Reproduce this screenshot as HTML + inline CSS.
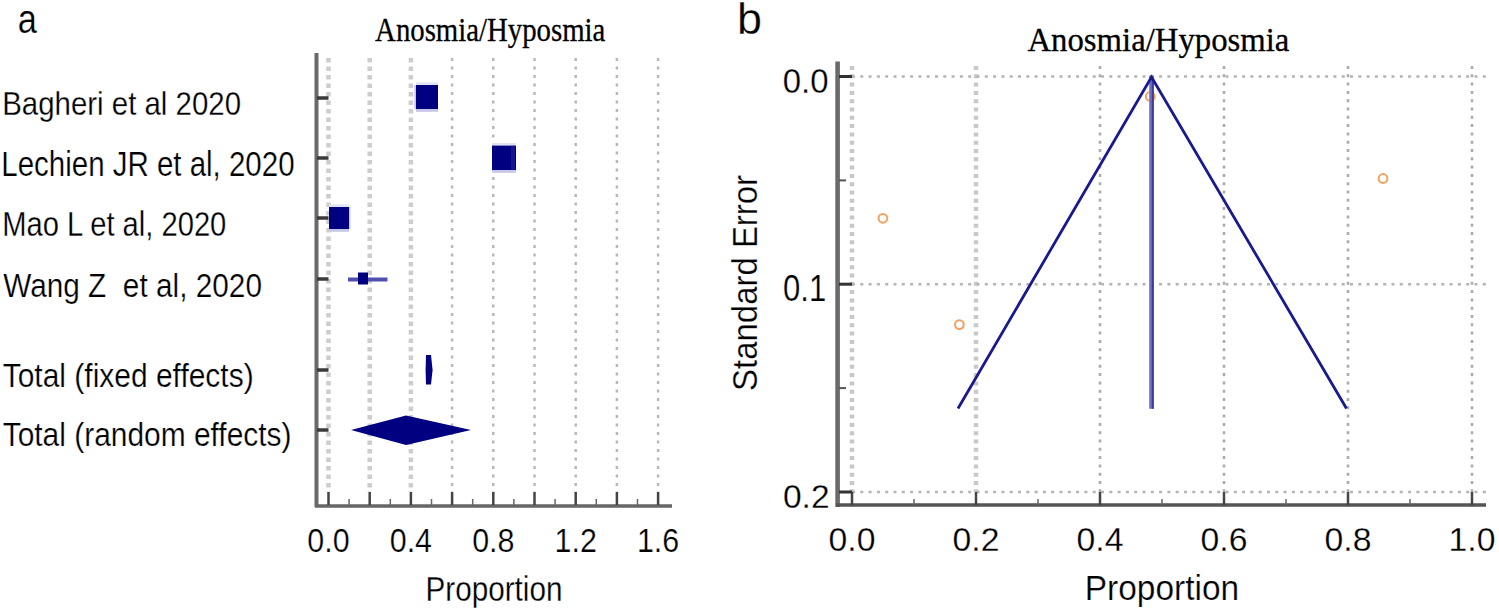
<!DOCTYPE html>
<html><head><meta charset="utf-8"><style>
html,body{margin:0;padding:0;background:#fff;}
body{width:1499px;height:613px;overflow:hidden;}
svg{display:block;}
text{stroke:#fff;stroke-width:0.25px;}
text.serif{stroke:#000;stroke-width:0.3px;}
</style></head><body>
<svg width="1499" height="613" viewBox="0 0 1499 613">
<rect width="1499" height="613" fill="#fff"/>
<line x1="328.5" y1="58" x2="328.5" y2="492" stroke="#cdcdcd" stroke-width="4.5" stroke-dasharray="4.5 4"/>
<line x1="369.7" y1="58" x2="369.7" y2="492" stroke="#cdcdcd" stroke-width="4.5" stroke-dasharray="4.5 4"/>
<line x1="410.9" y1="58" x2="410.9" y2="492" stroke="#cdcdcd" stroke-width="4.5" stroke-dasharray="4.5 4"/>
<line x1="452.1" y1="58" x2="452.1" y2="492" stroke="#b8b8b8" stroke-width="2.5" stroke-dasharray="3 5.5"/>
<line x1="493.3" y1="58" x2="493.3" y2="492" stroke="#b8b8b8" stroke-width="2.5" stroke-dasharray="3 5.5"/>
<line x1="534.5" y1="58" x2="534.5" y2="492" stroke="#b8b8b8" stroke-width="2.5" stroke-dasharray="3 5.5"/>
<line x1="575.7" y1="58" x2="575.7" y2="492" stroke="#b8b8b8" stroke-width="2.5" stroke-dasharray="3 5.5"/>
<line x1="616.9" y1="58" x2="616.9" y2="492" stroke="#b8b8b8" stroke-width="2.5" stroke-dasharray="3 5.5"/>
<line x1="658.1" y1="58" x2="658.1" y2="492" stroke="#b8b8b8" stroke-width="2.5" stroke-dasharray="3 5.5"/>
<line x1="316.5" y1="53" x2="316.5" y2="507" stroke="#6a6a6a" stroke-width="4"/>
<line x1="315" y1="506" x2="672" y2="506" stroke="#666" stroke-width="3.5"/>
<line x1="328.5" y1="492" x2="328.5" y2="505" stroke="#444" stroke-width="2.5"/>
<line x1="369.7" y1="492" x2="369.7" y2="505" stroke="#444" stroke-width="2.5"/>
<line x1="410.9" y1="492" x2="410.9" y2="505" stroke="#444" stroke-width="2.5"/>
<line x1="452.1" y1="492" x2="452.1" y2="505" stroke="#444" stroke-width="2.5"/>
<line x1="493.3" y1="492" x2="493.3" y2="505" stroke="#444" stroke-width="2.5"/>
<line x1="534.5" y1="492" x2="534.5" y2="505" stroke="#444" stroke-width="2.5"/>
<line x1="575.7" y1="492" x2="575.7" y2="505" stroke="#444" stroke-width="2.5"/>
<line x1="616.9" y1="492" x2="616.9" y2="505" stroke="#444" stroke-width="2.5"/>
<line x1="658.1" y1="492" x2="658.1" y2="505" stroke="#444" stroke-width="2.5"/>
<line x1="349.1" y1="499" x2="349.1" y2="505" stroke="#666" stroke-width="1.5"/>
<line x1="390.3" y1="499" x2="390.3" y2="505" stroke="#666" stroke-width="1.5"/>
<line x1="431.5" y1="499" x2="431.5" y2="505" stroke="#666" stroke-width="1.5"/>
<line x1="472.7" y1="499" x2="472.7" y2="505" stroke="#666" stroke-width="1.5"/>
<line x1="513.9" y1="499" x2="513.9" y2="505" stroke="#666" stroke-width="1.5"/>
<line x1="555.1" y1="499" x2="555.1" y2="505" stroke="#666" stroke-width="1.5"/>
<line x1="596.3" y1="499" x2="596.3" y2="505" stroke="#666" stroke-width="1.5"/>
<line x1="637.5" y1="499" x2="637.5" y2="505" stroke="#666" stroke-width="1.5"/>
<line x1="317" y1="98" x2="328.5" y2="98" stroke="#3a3a3a" stroke-width="3.5"/>
<line x1="317" y1="158" x2="328.5" y2="158" stroke="#3a3a3a" stroke-width="3.5"/>
<line x1="317" y1="218" x2="328.5" y2="218" stroke="#3a3a3a" stroke-width="3.5"/>
<line x1="317" y1="279" x2="328.5" y2="279" stroke="#3a3a3a" stroke-width="3.5"/>
<line x1="317" y1="370" x2="328.5" y2="370" stroke="#3a3a3a" stroke-width="3.5"/>
<line x1="317" y1="430" x2="328.5" y2="430" stroke="#3a3a3a" stroke-width="3.5"/>
<rect x="416" y="82.4" width="22" height="2.6" fill="#e2e2f2"/>
<rect x="416" y="109" width="22" height="2.8" fill="#c6c6e6"/>
<rect x="414.3" y="85" width="1.7" height="24" fill="#c8c8ea"/>
<rect x="416" y="85" width="22" height="24" fill="#000080"/>
<rect x="492" y="143.0" width="24" height="2.6" fill="#e2e2f2"/>
<rect x="492" y="170.0" width="24" height="2.8" fill="#c6c6e6"/>
<rect x="492" y="145.6" width="24" height="24.4" fill="#000080"/>
<rect x="511" y="145.6" width="4" height="24.4" fill="#2a2aa0" opacity="0.5"/>
<rect x="329" y="204.4" width="20" height="2.6" fill="#e2e2f2"/>
<rect x="329" y="229" width="20" height="2.8" fill="#c6c6e6"/>
<rect x="349" y="207" width="1.5" height="22" fill="#c8c8ea"/>
<rect x="329" y="207" width="20" height="22" fill="#000080"/>
<rect x="348" y="277.5" width="39.5" height="4" fill="#4f4fb0"/>
<rect x="358" y="272.5" width="10" height="12" fill="#000080"/>
<polygon points="426,355 431,355 432.6,370 431,384.5 426,384.5 425.6,370" fill="#000080"/>
<polygon points="351,430 406,415.5 471,430 406,445" fill="#000080"/>
<line x1="852.0" y1="66" x2="852.0" y2="492" stroke="#c8c8c8" stroke-width="4.5" stroke-dasharray="4 4.3"/>
<line x1="976.0" y1="66" x2="976.0" y2="492" stroke="#c8c8c8" stroke-width="4.5" stroke-dasharray="4 4.3"/>
<line x1="1100.0" y1="66" x2="1100.0" y2="492" stroke="#acacac" stroke-width="2.6" stroke-dasharray="3 5.3"/>
<line x1="1224.0" y1="66" x2="1224.0" y2="492" stroke="#acacac" stroke-width="2.6" stroke-dasharray="3 5.3"/>
<line x1="1348.0" y1="66" x2="1348.0" y2="492" stroke="#acacac" stroke-width="2.6" stroke-dasharray="3 5.3"/>
<line x1="1472.0" y1="66" x2="1472.0" y2="492" stroke="#acacac" stroke-width="2.6" stroke-dasharray="3 5.3"/>
<line x1="852" y1="76.5" x2="1486" y2="76.5" stroke="#b4b4b4" stroke-width="2.6" stroke-dasharray="3 5.3"/>
<line x1="852" y1="284.2" x2="1486" y2="284.2" stroke="#b4b4b4" stroke-width="2.6" stroke-dasharray="3 5.3"/>
<line x1="852" y1="492.0" x2="1486" y2="492.0" stroke="#b4b4b4" stroke-width="2.6" stroke-dasharray="3 5.3"/>
<line x1="837.6" y1="61.5" x2="837.6" y2="507" stroke="#6a6a6a" stroke-width="4.6"/>
<line x1="836" y1="505" x2="1486" y2="505" stroke="#555" stroke-width="3.5"/>
<line x1="852.0" y1="492" x2="852.0" y2="505" stroke="#444" stroke-width="2.5"/>
<line x1="976.0" y1="492" x2="976.0" y2="505" stroke="#444" stroke-width="2.5"/>
<line x1="1100.0" y1="492" x2="1100.0" y2="505" stroke="#444" stroke-width="2.5"/>
<line x1="1224.0" y1="492" x2="1224.0" y2="505" stroke="#444" stroke-width="2.5"/>
<line x1="1348.0" y1="492" x2="1348.0" y2="505" stroke="#444" stroke-width="2.5"/>
<line x1="1472.0" y1="492" x2="1472.0" y2="505" stroke="#444" stroke-width="2.5"/>
<line x1="914.0" y1="499" x2="914.0" y2="505" stroke="#666" stroke-width="1.5"/>
<line x1="1038.0" y1="499" x2="1038.0" y2="505" stroke="#666" stroke-width="1.5"/>
<line x1="1162.0" y1="499" x2="1162.0" y2="505" stroke="#666" stroke-width="1.5"/>
<line x1="1286.0" y1="499" x2="1286.0" y2="505" stroke="#666" stroke-width="1.5"/>
<line x1="1410.0" y1="499" x2="1410.0" y2="505" stroke="#666" stroke-width="1.5"/>
<line x1="839" y1="76.5" x2="852" y2="76.5" stroke="#333" stroke-width="3"/>
<line x1="839" y1="284.2" x2="852" y2="284.2" stroke="#333" stroke-width="3"/>
<line x1="839" y1="492.0" x2="852" y2="492.0" stroke="#333" stroke-width="3"/>
<line x1="839" y1="180.4" x2="846" y2="180.4" stroke="#555" stroke-width="2"/>
<line x1="839" y1="388.1" x2="846" y2="388.1" stroke="#555" stroke-width="2"/>
<circle cx="1150.3" cy="96.5" r="4.4" fill="none" stroke="#f3a062" stroke-width="2"/>
<circle cx="1383" cy="178.5" r="4.4" fill="none" stroke="#f3a062" stroke-width="2"/>
<circle cx="882.9" cy="218.3" r="4.4" fill="none" stroke="#f3a062" stroke-width="2"/>
<circle cx="959.4" cy="324.6" r="4.4" fill="none" stroke="#f3a062" stroke-width="2"/>
<line x1="1151.5" y1="75.5" x2="1151.5" y2="408.7" stroke="#7070c4" stroke-width="4.6"/>
<line x1="1152.8" y1="80" x2="1152.8" y2="408.7" stroke="#3c3c9c" stroke-width="2"/>
<polyline points="958,408.5 1151.5,77.0 1346.5,408.5" fill="none" stroke="#1a1a90" stroke-width="2.8" stroke-linejoin="miter"/>
<text transform="translate(17.73,33.30) scale(0.8592,1)" font-size="40.00" font-family='"Liberation Sans", sans-serif' fill="#000"  xml:space="preserve">a</text>
<text transform="translate(736.88,33.60) scale(1.0299,1)" font-size="43.59" font-family='"Liberation Sans", sans-serif' fill="#000"  xml:space="preserve">b</text>
<text class="serif" transform="translate(375.11,41.20) scale(0.8637,1)" font-size="33.33" font-family='"Liberation Serif", serif' fill="#000"  xml:space="preserve">Anosmia/Hyposmia</text>
<text class="serif" transform="translate(1027.47,50.90) scale(0.9781,1)" font-size="33.48" font-family='"Liberation Serif", serif' fill="#000"  xml:space="preserve">Anosmia/Hyposmia</text>
<text transform="translate(2.25,115.10) scale(0.8677,1)" font-size="33.91" font-family='"Liberation Sans", sans-serif' fill="#000"  xml:space="preserve">Bagheri et al 2020</text>
<text transform="translate(1.34,175.60) scale(0.8407,1)" font-size="35.07" font-family='"Liberation Sans", sans-serif' fill="#000"  xml:space="preserve">Lechien JR et al, 2020</text>
<text transform="translate(2.17,236.20) scale(0.8454,1)" font-size="34.49" font-family='"Liberation Sans", sans-serif' fill="#000"  xml:space="preserve">Mao L et al, 2020</text>
<text transform="translate(3.15,296.50) scale(0.8747,1)" font-size="34.06" font-family='"Liberation Sans", sans-serif' fill="#000"  xml:space="preserve">Wang Z  et al, 2020</text>
<text transform="translate(2.70,386.60) scale(0.9075,1)" font-size="33.04" font-family='"Liberation Sans", sans-serif' fill="#000"  xml:space="preserve">Total (fixed effects)</text>
<text transform="translate(2.70,446.00) scale(0.9017,1)" font-size="33.19" font-family='"Liberation Sans", sans-serif' fill="#000"  xml:space="preserve">Total (random effects)</text>
<text transform="translate(307.36,552.00) scale(0.9099,1)" font-size="33.43" font-family='"Liberation Sans", sans-serif' fill="#000">0.0</text>
<text transform="translate(389.76,552.00) scale(0.9099,1)" font-size="33.43" font-family='"Liberation Sans", sans-serif' fill="#000">0.4</text>
<text transform="translate(472.16,552.00) scale(0.9099,1)" font-size="33.43" font-family='"Liberation Sans", sans-serif' fill="#000">0.8</text>
<text transform="translate(554.56,552.00) scale(0.9099,1)" font-size="33.43" font-family='"Liberation Sans", sans-serif' fill="#000">1.2</text>
<text transform="translate(636.96,552.00) scale(0.9099,1)" font-size="33.43" font-family='"Liberation Sans", sans-serif' fill="#000">1.6</text>
<text transform="translate(425.53,600.90) scale(0.8643,1)" font-size="34.35" font-family='"Liberation Sans", sans-serif' fill="#000"  xml:space="preserve">Proportion</text>
<text transform="translate(782.68,93.00) scale(0.9408,1)" font-size="35.00" font-family='"Liberation Sans", sans-serif' fill="#000"  xml:space="preserve">0.0</text>
<text transform="translate(783.06,300.60) scale(0.8519,1)" font-size="36.43" font-family='"Liberation Sans", sans-serif' fill="#000"  xml:space="preserve">0.1</text>
<text transform="translate(782.96,508.00) scale(0.9906,1)" font-size="33.86" font-family='"Liberation Sans", sans-serif' fill="#000"  xml:space="preserve">0.2</text>
<text transform="translate(828.53,551.30) scale(0.9931,1)" font-size="34.00" font-family='"Liberation Sans", sans-serif' fill="#000">0.0</text>
<text transform="translate(952.53,551.30) scale(0.9931,1)" font-size="34.00" font-family='"Liberation Sans", sans-serif' fill="#000">0.2</text>
<text transform="translate(1076.53,551.30) scale(0.9931,1)" font-size="34.00" font-family='"Liberation Sans", sans-serif' fill="#000">0.4</text>
<text transform="translate(1200.53,551.30) scale(0.9931,1)" font-size="34.00" font-family='"Liberation Sans", sans-serif' fill="#000">0.6</text>
<text transform="translate(1324.53,551.30) scale(0.9931,1)" font-size="34.00" font-family='"Liberation Sans", sans-serif' fill="#000">0.8</text>
<text transform="translate(1448.53,551.30) scale(0.9931,1)" font-size="34.00" font-family='"Liberation Sans", sans-serif' fill="#000">1.0</text>
<text transform="translate(1084.72,600.20) scale(0.9555,1)" font-size="35.07" font-family='"Liberation Sans", sans-serif' fill="#000"  xml:space="preserve">Proportion</text>
<text transform="translate(756.5,390.88) rotate(-90) scale(0.9468,1)" font-size="34.78" font-family='"Liberation Sans", sans-serif' fill="#000">Standard Error</text>
</svg>
</body></html>
